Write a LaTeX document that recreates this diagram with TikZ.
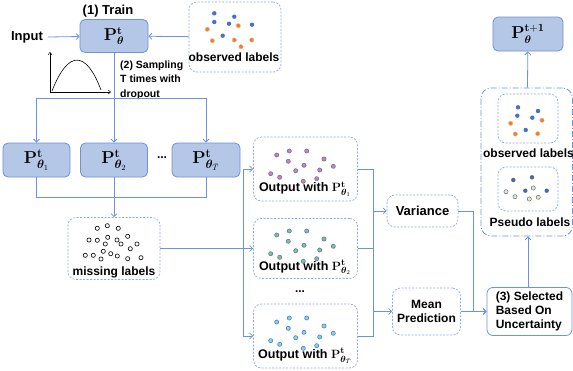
\documentclass[tikz,border=0pt]{standalone}
\usepackage[no-math]{fontspec}
\setmainfont{Liberation Sans}
\usepackage{amsmath,bm}
\usetikzlibrary{arrows.meta}
\definecolor{boxfill}{HTML}{B4C7E7}
\definecolor{boxline}{HTML}{7191D4}
\definecolor{lineblue}{HTML}{6C94DD}
\definecolor{dashline}{HTML}{8FAADC}
\definecolor{dotblue}{HTML}{4472C4}
\definecolor{dotorange}{HTML}{ED7D31}
\definecolor{dotpink}{HTML}{DE7F95}
\definecolor{dotgreen}{HTML}{8FC07A}
\definecolor{dotcyan}{HTML}{86D3E3}
\definecolor{dotyellow}{HTML}{FFE699}
\definecolor{dotnavy}{HTML}{4A68A8}
% dots of one output box, #2 = vertical shift
\newcommand{\outdots}[2]{%
  \foreach \dx/\dy in {276.7/155,289.3/151,306.7/151,288.3/161.3,324/159,304/165.3,%
    295.7/170.7,333.3/166.3,319.7/170,270.7/173.7,279.7/177.3,303.3/181.3,316.7/178.7}
    \filldraw[fill=#1,draw=dotblue,line width=0.5pt] (\dx,\dy+#2) circle (2.1pt);}
\newcommand{\ptheta}[1]{$\mathbf{P}^{\mathbf{t}}_{#1}$}

\begin{document}
\begin{tikzpicture}
[x=1pt,y=-1pt,>={Straight Barb[length=3pt,width=6pt]},%
  every node/.style={font=\fontsize{12}{14}\selectfont\bfseries,inner sep=0pt},%
  pbox/.style={draw=boxline,fill=boxfill,rounded corners=5pt,line width=0.8pt,%
    font=\fontsize{17}{20}\selectfont},%
  dbox/.style={draw=dashline,dash pattern=on 2pt off 1.5pt,line width=0.7pt,rounded corners=8pt},%
  conn/.style={lineblue,line width=0.8pt}]
\useasboundingbox (0,0) rectangle (573,370);

% training step
\node (trainlabel) at (108,11) {\fontsize{13}{15}\selectfont (1) Train};
\node[pbox,minimum width=68pt,minimum height=33pt,font=\fontsize{16}{19}\selectfont] (train) at (114,36)
  {$\mathbf{P}^{\mathbf{t}}_{\bm{\theta}}$};
\node (input) at (27,37) {\fontsize{13}{15}\selectfont Input};
\node[dbox,minimum width=92pt,minimum height=70pt] (obstop) at (235,37) {};
\node (obstoptext) at (234,57) {observed labels};
\foreach \dx/\dy in {214.3/13.3,234.3/16.7,214.3/22,229/23.7,252/24.7,222.7/35.7}
  \fill[dotblue] (\dx,\dy) circle (2.2pt);
\foreach \dx/\dy in {238.3/25.7,207.3/29.3,212.3/40.7,234.3/40,251.7/40,241/46.7}
  \filldraw[fill=dotorange,draw=dotorange!50!white,line width=0.4pt] (\dx,\dy) circle (2.2pt);

% dropout curve
\draw[->,line width=0.5pt,>={Straight Barb[length=2.5pt,width=4pt]}] (50,92) -- (50,52);
\draw[->,line width=0.5pt,>={Straight Barb[length=2.5pt,width=4pt]}] (50,92) -- (111,92);
\draw[line width=0.6pt] (52,91) .. controls (68,50) and (86,50) .. (101,90);
\node[anchor=west,align=left,font=\fontsize{10.5}{14.5}\selectfont\bfseries] (sampling) at (120,80)
  {(2) Sampling\\T times with\\dropout};

% sampled models
\node[pbox,minimum width=67pt,minimum height=34pt] (p1) at (36.5,160) {\ptheta{\bm{\theta}_1}};
\node[pbox,minimum width=67pt,minimum height=34pt] (p2) at (114,160) {\ptheta{\bm{\theta}_2}};
\node (pdots) at (162,158) {...};
\node[pbox,minimum width=68pt,minimum height=34pt] (pT) at (206,160) {\ptheta{\bm{\theta}_{\bar{T}}}};
\coordinate (split) at (114,98);
\coordinate (join) at (114,197);
\draw[conn] (train) -- (split);
\draw[conn] (p1.north |- split) -- (pT.north |- split);
\draw[conn,->] (p1.north |- split) -- (p1);
\draw[conn,->] (split) -- (p2);
\draw[conn,->] (pT.north |- split) -- (pT);
\draw[conn] (p1) -- (p1 |- join) -- (pT |- join) -- (pT);

% missing labels
\node[dbox,minimum width=92pt,minimum height=62pt] (missing) at (114,248.5) {};
\node (missingtext) at (114,272) {missing labels};
\foreach \dx/\dy in {97.3/228.3,107.3/225.7,118.3/228.3,89/240,97.3/240.3,107.7/237.3,105.3/244,%
  117/240,121/244,127.7/236.3,130.3/248.7,137/244,85.3/255.3,93.3/255.3,101/259,103.3/251.3,%
  110.7/253.7,117.3/256,127.7/258.7,141/257.7}
  \draw[line width=0.6pt,fill=white] (\dx,\dy) circle (2.1pt);
\draw[conn,->] (p2) -- (missing);

% outputs
\node[dbox,minimum width=104pt,minimum height=64pt] (out1) at (305.5,169) {};
\node[dbox,minimum width=104pt,minimum height=60pt] (out2) at (305.5,248.5) {};
\node (outdots) at (300,292) {...};
\node[dbox,minimum width=104pt,minimum height=64pt] (out3) at (305.5,336) {};
\outdots{dotpink}{0}
\outdots{dotgreen}{80}
\outdots{dotcyan}{167}
\node (out1text) at (305,189) {\fontsize{12.5}{15}\selectfont Output with \ptheta{\bm{\theta}_1}};
\node (out2text) at (305,267.5) {\fontsize{12.5}{15}\selectfont Output with \ptheta{\bm{\theta}_2}};
\node (out3text) at (305,356) {\fontsize{12.5}{15}\selectfont Output with \ptheta{\bm{\theta}_{\bar{T}}}};
\coordinate (fan) at (243,248.5);
\draw[conn,->] (missing) -- (out2);
\draw[conn] (fan |- out1) -- (fan |- out3);
\draw[conn,->] (fan |- out1) -- (out1);
\draw[conn,->] (fan |- out3) -- (out3);

% variance and mean
\node[dbox,minimum width=71pt,minimum height=32pt] (variance) at (422.5,211)
  {\fontsize{13}{15}\selectfont Variance};
\node[dbox,minimum width=68pt,minimum height=47pt,align=center] (mean) at (426.5,311.5)
  {Mean\\Prediction};
\coordinate (merge) at (373,211);
\draw[conn] (out1) -- (out1 -| merge) -- (out3 -| merge) -- (out3);
\draw[conn] (out2) -- (out2 -| merge);
\draw[conn,->] (merge) -- (variance);
\draw[conn,->] (merge |- mean) -- (mean);

% selection
\node[draw=lineblue,line width=0.8pt,rounded corners=6pt,minimum width=85pt,minimum height=48pt,
  align=left] (select) at (529.5,311.5) {(3) Selected\\Based On\\Uncertainty};
\coordinate (bend) at (473,211);
\draw[conn,->] (variance) -- (bend) -- (bend |- select) -- (select);
\draw[conn,->] (mean) -- (select);

% new training set
\node[draw=lineblue,line width=0.8pt,dash pattern=on 6pt off 2pt on 1pt off 2pt,rounded corners=10pt,
  minimum width=91.5pt,minimum height=148pt] (big) at (526.75,162) {};
\node[dbox,minimum width=60pt,minimum height=49pt] (obsright) at (528,118.5) {};
\node (obsrighttext) at (528.5,153) {observed labels};
\node[dbox,minimum width=60pt,minimum height=44pt] (pseudo) at (528,189) {};
\node (pseudotext) at (530,222) {Pseudo labels};
\foreach \dx/\dy in {518/107.3,538/111,517.3/115.7,532.3/117.7,525.7/130}
  \fill[dotblue] (\dx,\dy) circle (2.2pt);
\foreach \dx/\dy in {542/120.3,510.7/123.3,515.3/134,537.7/133.7}
  \filldraw[fill=dotorange,draw=dotorange!50!white,line width=0.4pt] (\dx,\dy) circle (2.2pt);
\foreach \dx/\dy in {513.3/180,532/177.3,525.3/190.7,546.7/190.7}
  \fill[dotnavy] (\dx,\dy) circle (2.2pt);
\foreach \dx/\dy in {506/191.7,533.3/188,515/196.7,529.3/199,538.3/197.3}
  \filldraw[fill=dotyellow,draw=dotblue,line width=0.5pt] (\dx,\dy) circle (2.1pt);
\node[pbox,minimum width=70pt,minimum height=34pt,font=\fontsize{16}{19}\selectfont] (next) at (528,34)
  {$\mathbf{P}^{\mathbf{t+1}}_{\bm{\theta}}$};
\draw[conn,->] (next |- select.north) -- (next |- big.south);
\draw[conn,->] (big) -- (next);

% inputs into training
\draw[conn,->] ([xshift=5pt]input.east) -- (train);
\draw[conn,->] (obstop) -- (train);
\end{tikzpicture}
\end{document}
